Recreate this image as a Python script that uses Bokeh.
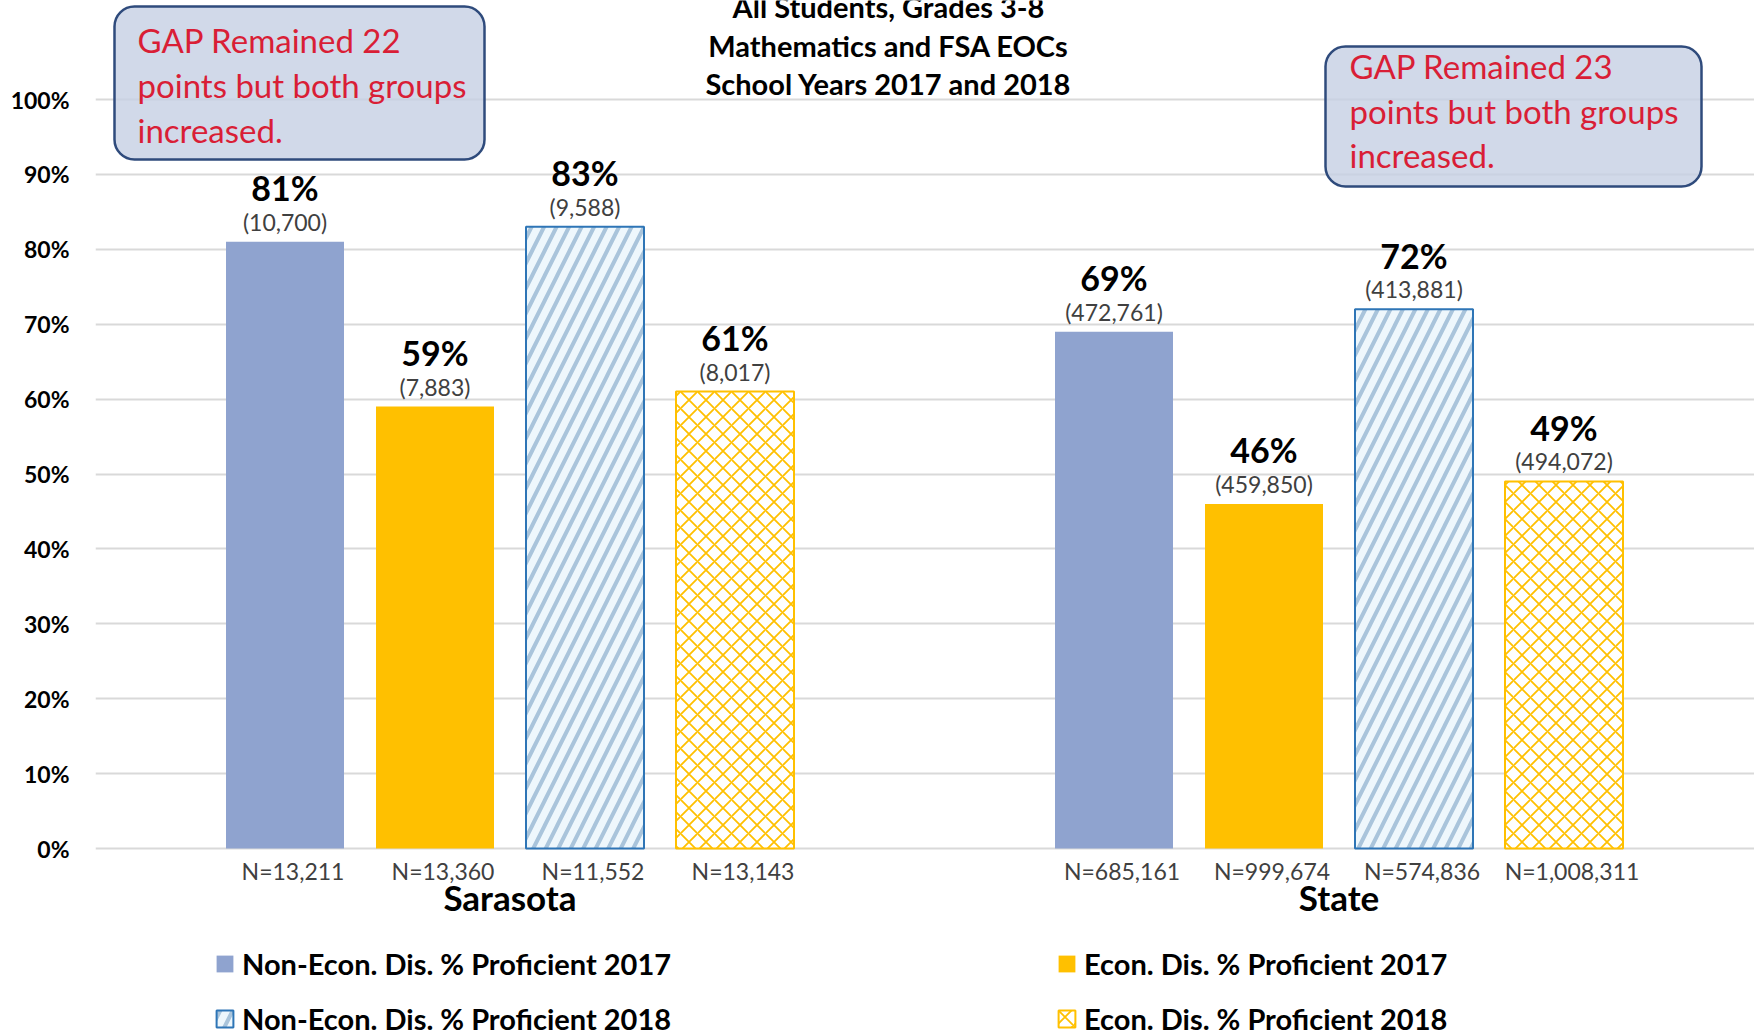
from bokeh.plotting import figure
from bokeh.models import (Range1d, FixedTicker, PrintfTickFormatter, BoxAnnotation,
                          Label, Legend, LegendItem, ColumnDataSource)
from bokeh.core.properties import value
from bokeh.embed import file_html
from bokeh.resources import INLINE

# ---------------- data ----------------
groups = ["Sarasota", "State"]
series_names = [
    "Non-Econ. Dis. % Proficient 2017",
    "Econ. Dis. % Proficient 2017",
    "Non-Econ. Dis. % Proficient 2018",
    "Econ. Dis. % Proficient 2018",
]
pct_non_2017 = [81, 69]
pct_econ_2017 = [59, 46]
pct_non_2018 = [83, 72]
pct_econ_2018 = [61, 49]

prof_non_2017 = [10700, 472761]
prof_econ_2017 = [7883, 459850]
prof_non_2018 = [9588, 413881]
prof_econ_2018 = [8017, 494072]

n_non_2017 = [13211, 685161]
n_econ_2017 = [13360, 999674]
n_non_2018 = [11552, 574836]
n_econ_2018 = [13143, 1008311]

y_ticks = [0, 10, 20, 30, 40, 50, 60, 70, 80, 90, 100]
title_lines = ["All Students, Grades 3-8", "Mathematics and FSA EOCs",
               "School Years 2017 and 2018"]
note_left = ["GAP Remained 22", "points but both groups", "increased."]
note_right = ["GAP Remained 23", "points but both groups", "increased."]

pcts = [pct_non_2017, pct_econ_2017, pct_non_2018, pct_econ_2018]
profs = [prof_non_2017, prof_econ_2017, prof_non_2018, prof_econ_2018]
ns = [n_non_2017, n_econ_2017, n_non_2018, n_econ_2018]

# ---------------- layout ----------------
FONT = "Lato"
W, H = 1754, 1036
FRAME_LEFT = 95
X_PX = 829.0          # pixels per category
Y_PX = 7.49           # pixels per percentage point
ZERO_PX = 848         # y=0 position from canvas top
x_end = (W - FRAME_LEFT) / X_PX
y_end = ZERO_PX / Y_PX
y_start = -(H - ZERO_PX) / Y_PX
PXY = 1.0 / Y_PX
PXX = 1.0 / X_PX


def dx(px):  # canvas pixel -> data x
    return (px - FRAME_LEFT) / X_PX


def dy(px):  # canvas pixel -> data y
    return (ZERO_PX - px) / Y_PX


p = figure(width=W, height=H, x_range=Range1d(0, x_end), y_range=Range1d(y_start, y_end),
           x_axis_type=None, output_backend="svg", toolbar_location=None,
           min_border_left=FRAME_LEFT, min_border_right=0, min_border_top=0,
           min_border_bottom=0)
p.outline_line_color = None
p.background_fill_color = "white"

yax = p.yaxis[0]
yax.ticker = FixedTicker(ticks=y_ticks)
yax.formatter = PrintfTickFormatter(format="%d%%")
yax.bounds = (0, 100)
yax.axis_line_color = None
yax.major_tick_line_color = None
yax.minor_tick_line_color = None
yax.major_tick_out = 0
yax.major_tick_in = 0
yax.major_label_standoff = 26
yax.major_label_text_font = FONT
yax.major_label_text_font_style = "bold"
yax.major_label_text_font_size = "23px"
yax.major_label_text_color = "black"
p.ygrid.grid_line_color = "#d9d9d9"
p.ygrid.grid_line_width = 2

BAR_W = 118 * PXX
STEP = 150 * PXX
offsets = [-1.5, -0.5, 0.5, 1.5]
styles = [
    dict(fill_color="#8FA3CF", line_color=None),
    dict(fill_color="#FFC000", line_color=None),
    dict(fill_color="#EEF7FC", line_color="#2E75B6", line_width=2,
         hatch_pattern=value("right_diagonal_line"), hatch_color="#A9C4DB",
         hatch_weight=4, hatch_scale=25),
    dict(fill_color="#FFFFFF", line_color="#FFC000", line_width=2,
         hatch_pattern=value("diagonal_cross"), hatch_color="#FFC000",
         hatch_weight=1.8, hatch_scale=17),
]

renderers = []
for k in range(4):
    xs = [g + 0.5 + offsets[k] * STEP for g in range(len(groups))]
    src = ColumnDataSource(dict(
        x=xs, top=pcts[k],
        pct_y=[v + 54 * PXY for v in pcts[k]],
        cnt_y=[v + 20 * PXY for v in pcts[k]],
        pct_txt=[f"{v}%" for v in pcts[k]],
        cnt_txt=[f"({c:,})" for c in profs[k]],
        n_x=[x + 8 * PXX for x in xs],
        n_y=[dy(870)] * len(xs),
        n_txt=[f"N={n:,}" for n in ns[k]],
    ))
    r = p.vbar(x="x", top="top", bottom=0, width=BAR_W, source=src, **styles[k])
    renderers.append(r)
    p.text(x="x", y="pct_y", text="pct_txt", source=src, text_align="center",
           text_baseline="middle", text_font=value(FONT), text_font_style="bold",
           text_font_size="34px", text_color="black")
    p.text(x="x", y="cnt_y", text="cnt_txt", source=src, text_align="center",
           text_baseline="middle", text_font=value(FONT), text_font_size="23px",
           text_color="#404040")
    p.text(x="n_x", y="n_y", text="n_txt", source=src, text_align="center",
           text_baseline="middle", text_font=value(FONT), text_font_size="23px",
           text_color="#404040")

# category labels
p.text(x=[g + 0.5 for g in range(len(groups))], y=[dy(896)] * len(groups), text=groups,
       text_align="center", text_baseline="middle", text_font=value(FONT),
       text_font_style="bold", text_font_size="35px", text_color="black")

# title
for t, c in zip(title_lines, [6, 45, 83]):
    p.add_layout(Label(x=dx(888), y=dy(c), text=t, text_align="center",
                       text_baseline="middle", text_font=FONT, text_font_style="bold",
                       text_font_size="29px", text_color="black"))

# note boxes
for (l, r_, t, b), lines, tx, cens in [
        ((114, 484, 6, 159), note_left, 137, [39, 84, 129]),
        ((1325, 1701, 46, 186), note_right, 1349, [65, 110, 154])]:
    p.add_layout(BoxAnnotation(left=dx(l), right=dx(r_), top=dy(t), bottom=dy(b),
                               fill_color="#c5cfe3", fill_alpha=0.8,
                               line_color="#2f4b7c", line_width=2.5, line_alpha=1,
                               border_radius=20))
    for txt, cy in zip(lines, cens):
        p.add_layout(Label(x=dx(tx), y=dy(cy), text=txt, text_align="left",
                           text_baseline="middle", text_font=FONT,
                           text_font_size="33px", text_color="#d91e36"))

# legends
def make_legend(idx, vx):
    lg = Legend(items=[LegendItem(label=series_names[i], renderers=[renderers[i]]) for i in idx],
                location=(vx, 0), orientation="vertical",
                label_text_font=FONT, label_text_font_style="bold",
                label_text_font_size="29px", label_text_color="black",
                glyph_width=21, glyph_height=21, label_standoff=7,
                label_height=30, spacing=20, padding=0, margin=0,
                border_line_color=None, background_fill_alpha=0)
    p.add_layout(lg)


make_legend([0, 2], 214 - FRAME_LEFT)
make_legend([1, 3], 1056 - FRAME_LEFT)

open("out.html", "w").write(file_html(p, INLINE))
